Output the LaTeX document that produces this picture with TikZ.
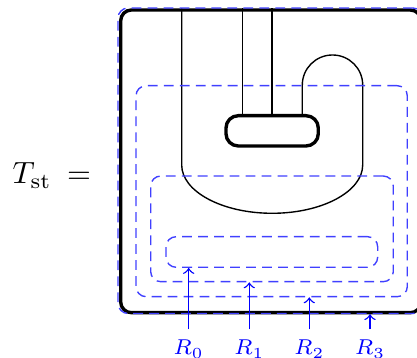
\documentclass[tikz,border=0pt]{standalone}
\usetikzlibrary{fit}
\begin{document}
\begin{tikzpicture}[x=0.3257pt,y=-0.3257pt,
  region/.style={draw=blue!75, dash pattern=on 3.2pt off 2pt, line width=0.45pt, rounded corners=3.3pt, inner sep=0pt},
  boxthick/.style={draw=black, line width=1.1pt, inner sep=0pt},
  strand/.style={line width=0.45pt},
  pointer/.style={->, draw=blue, line width=0.45pt},
  lab/.style={text=blue, font=\scriptsize, anchor=base}]
\useasboundingbox (0,0) rectangle (417,358);
% outer box
\node[boxthick, rounded corners=3.5pt, fit={(120.7,10) (421,312.7)}] (box) {};
% coupon (pill)
\node[boxthick, rounded corners=4pt, fit={(226,115.7) (318.3,146)}] (pill) {};
% strands
\draw[strand] (181.7,0 |- box.north) -- (181.7,165)
  .. controls (181.7,191.5) and (222.2,213.3) .. (272.2,213.3)
  .. controls (322.2,213.3) and (362.7,191.5) .. (362.7,165)
  -- (362.7,85)
  .. controls (362.7,68.4) and (349.1,55) .. (332.5,55)
  .. controls (315.9,55) and (302.3,68.4) .. (302.3,85)
  -- (302.3,0 |- pill.north);
\draw[strand] (242.3,0 |- box.north) -- (242.3,0 |- pill.north);
\draw[strand] (272,0 |- box.north) -- (272,0 |- pill.north);
% regions
\node[region, fit={(166,236.7) (377.7,267.3)}] (R0) {};
\node[region, fit={(150.7,176) (393.3,281.7)}] (R1) {};
\node[region, fit={(136,85.7) (407.3,296.7)}] (R2) {};
\node[region, fit={(118,8) (423,313.5)}] (R3) {};
% labels
\node[lab] (l0) at (188.7,355) {$R_0$};
\node[lab] (l1) at (249.3,355) {$R_1$};
\node[lab] (l2) at (309.3,355) {$R_2$};
\node[lab] (l3) at (370,355) {$R_3$};
\draw[pointer] (l0.north) -- (l0 |- R0.south);
\draw[pointer] (l1.north) -- (l1 |- R1.south);
\draw[pointer] (l2.north) -- (l2 |- R2.south);
\draw[pointer] (l3.north) -- (l3 |- R3.south);
% left text
\node[anchor=base west, inner sep=0pt] (T) at (12,184) {$T_{\mathrm{st}}$};
\node[anchor=base, inner sep=0pt] (eq) at (79,184) {$=$};
\end{tikzpicture}
\end{document}
